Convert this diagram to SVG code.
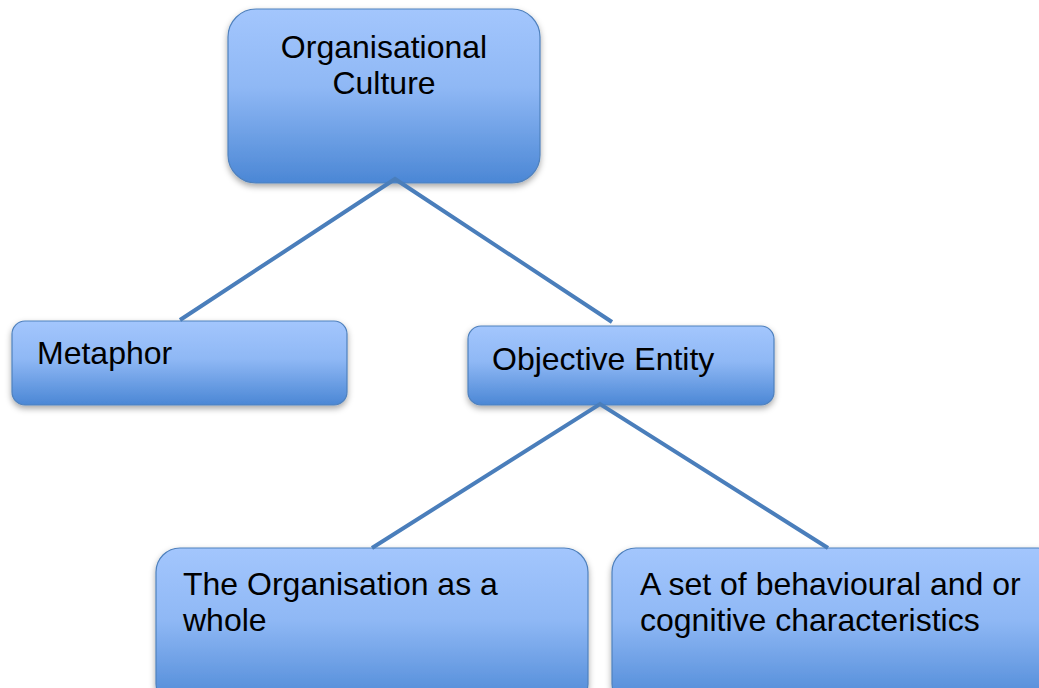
<svg xmlns="http://www.w3.org/2000/svg" width="1039" height="688" viewBox="0 0 1039 688">
  <defs>
    <linearGradient id="boxFill" x1="0" y1="0" x2="0" y2="1">
      <stop offset="0" stop-color="#a3c6fd"/>
      <stop offset="0.45" stop-color="#8fb8f5"/>
      <stop offset="1" stop-color="#4b87d5"/>
    </linearGradient>
    <filter id="shadow" x="-10%" y="-10%" width="120%" height="130%">
      <feDropShadow dx="0" dy="3" stdDeviation="3" flood-color="#000" flood-opacity="0.35"/>
    </filter>
  </defs>
  <style>
    .box { fill: url(#boxFill); stroke: #4f81bd; stroke-width: 1.2; filter: url(#shadow); }
    .label { font-family: "Liberation Sans", Arial, sans-serif; font-size: 32px; fill: #000; }
    .link { stroke: #4a7ebb; stroke-width: 4; fill: none; stroke-linecap: butt; }
  </style>
  <rect width="1039" height="688" fill="#fff"/>

  <g id="node-culture">
    <rect class="box" x="228" y="9" width="312" height="174" rx="28"/>
    <text class="label" x="384" y="58" text-anchor="middle">Organisational</text>
    <text class="label" x="384" y="94" text-anchor="middle">Culture</text>
  </g>

  <g id="node-metaphor">
    <rect class="box" x="12" y="321" width="335" height="84" rx="13"/>
    <text class="label" x="37" y="364">Metaphor</text>
  </g>

  <g id="node-objective">
    <rect class="box" x="468" y="326" width="306" height="79" rx="13"/>
    <text class="label" x="492" y="370">Objective Entity</text>
  </g>

  <g id="node-whole">
    <rect class="box" x="156" y="548" width="432" height="160" rx="24"/>
    <text class="label" x="183" y="595">The Organisation as a</text>
    <text class="label" x="183" y="631">whole</text>
  </g>

  <g id="node-characteristics">
    <rect class="box" x="612" y="548" width="450" height="160" rx="24"/>
    <text class="label" x="640" y="595">A set of behavioural and or</text>
    <text class="label" x="640" y="631">cognitive characteristics</text>
  </g>

  <g id="connectors">
    <polyline class="link" points="180,320 395,179 612,322"/>
    <polyline class="link" points="372,548 600,404 828,548"/>
  </g>
</svg>
